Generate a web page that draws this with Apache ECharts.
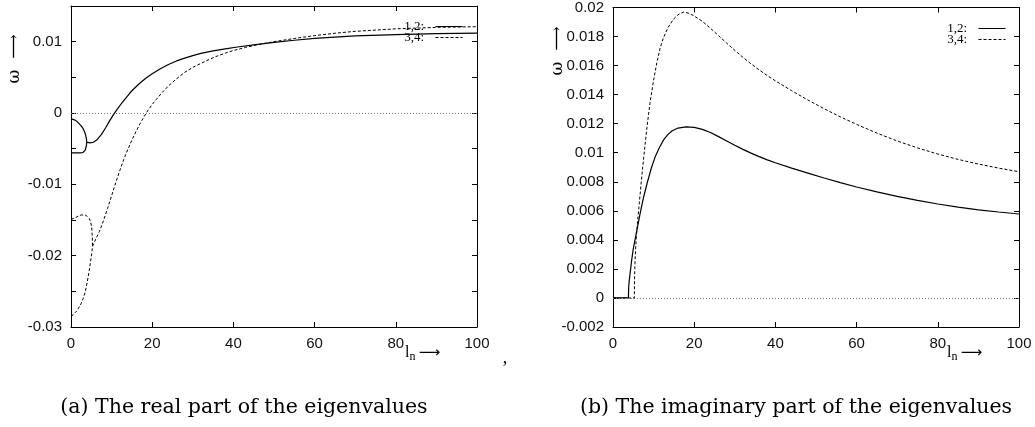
<!DOCTYPE html>
<html>
<head>
<meta charset="utf-8">
<script src="https://cdn.jsdelivr.net/npm/echarts@6/dist/echarts.min.js"></script>
<style>
  html, body { margin: 0; padding: 0; background: #fff; }
  #chart { width: 1035px; height: 427px; }
</style>
</head>
<body>
<div id="chart"></div>
<script>
// Eigenvalue branches versus l_n. Before the two modes of a pair coalesce they are
// real and distinct (two branches); afterwards they share one real part.
const seriesNames = ['1,2:', '3,4:'];

const xTickValues = [0, 20, 40, 60, 80, 100];
const realYLabels = [-0.03, -0.02, -0.01, 0, 0.01];
const imagYLabels = [-0.002, 0, 0.002, 0.004, 0.006, 0.008, 0.01, 0.012, 0.014, 0.016, 0.018, 0.02];

// Real part, modes 1,2
const realSolidUpper = [[0,-0.0008],[0.5,-0.0009],[1,-0.0010],[1.5,-0.0012],[2,-0.0015],[2.5,-0.0018],[3,-0.0022],[3.3,-0.0026],[3.5,-0.0029],[3.65,-0.0032],[3.75,-0.0035],[3.83,-0.0038],[3.88,-0.0041]];
const realSolidLower = [[0,-0.0056],[1,-0.0056],[2,-0.0056],[2.5,-0.0056],[3,-0.0055],[3.3,-0.0054],[3.5,-0.0052],[3.65,-0.0050],[3.75,-0.0047],[3.83,-0.0044],[3.88,-0.0041],[4.3,-0.0041],[4.7,-0.0042],[5.5,-0.0041],[6.5,-0.0037],[7.5,-0.0030],[8.5,-0.0021],[9.5,-0.0011],[10.5,-0.0002],[11.5,0.0006],[12.5,0.0014],[13.5,0.0021],[14.5,0.0028],[15.5,0.0034],[17,0.0042],[18.5,0.0049],[20,0.0055],[22,0.0062],[24,0.0068],[26,0.0073],[28,0.0077],[30,0.00805],[32,0.00835],[35,0.0087],[38,0.0090],[41,0.00925],[45,0.00955],[50,0.0099],[55,0.0102],[60,0.01045],[70,0.0108],[80,0.0110],[90,0.01113],[100,0.0112]];

// Real part, modes 3,4
const realDashUpper = [[0,-0.0149],[1,-0.0147],[2,-0.0144],[2.5,-0.0143],[3,-0.0143],[3.5,-0.0143],[4,-0.0145],[4.5,-0.0148],[4.8,-0.0152],[5.0,-0.0157],[5.15,-0.0164],[5.25,-0.0174],[5.3,-0.0187]];
const realDashLower = [[0,-0.0285],[0.5,-0.0283],[1,-0.0280],[1.5,-0.0277],[2,-0.0272],[2.5,-0.0267],[3,-0.0260],[3.5,-0.0251],[4,-0.0237],[4.4,-0.0224],[4.8,-0.0209],[5.1,-0.0197],[5.3,-0.0187],[6,-0.0178],[7,-0.0166],[8,-0.0151],[9,-0.0134],[10,-0.0116],[11,-0.0098],[12,-0.0081],[13,-0.0065],[14,-0.0051],[15,-0.0038],[16,-0.0026],[17,-0.0015],[18,-0.0005],[19,0.0004],[20,0.0012],[21,0.0019],[22.5,0.0029],[24,0.0038],[26,0.0048],[28,0.0057],[30,0.0064],[32,0.00695],[34,0.0075],[36,0.00798],[38,0.0084],[40,0.00876],[43,0.0092],[46,0.00958],[50,0.0100],[55,0.01045],[60,0.01085],[65,0.01118],[70,0.01145],[80,0.0118],[90,0.0120],[100,0.0121]];

// Imaginary part
const imagSolid = [[0,0],[3.8,0],[3.85,0.0007],[4.0,0.0012],[4.3,0.0019],[4.6,0.0026],[5.0,0.0034],[5.7,0.0044],[6.6,0.0057],[7.5,0.0069],[8.5,0.0080],[9.5,0.0090],[10.5,0.0098],[11.5,0.0104],[12.5,0.0109],[13.5,0.01125],[14.5,0.0115],[16,0.0117],[18,0.01178],[20,0.01175],[22,0.01161],[24,0.01139],[26,0.01111],[28,0.01081],[30,0.01051],[32,0.01023],[34,0.00997],[36,0.00973],[38,0.00951],[40,0.00931],[44,0.00894],[48,0.0086],[52,0.00826],[56,0.00794],[60,0.00764],[65,0.00731],[70,0.0070],[75,0.00672],[80,0.00647],[85,0.00626],[90,0.00607],[95,0.00592],[100,0.00578]];
const imagDash = [[0,0],[5.25,0],[5.3,0.0013],[5.4,0.0023],[5.55,0.0033],[5.7,0.0040],[6.0,0.0051],[6.5,0.0066],[7.0,0.0081],[7.5,0.0095],[8.3,0.0116],[9.1,0.0134],[10,0.0150],[10.8,0.0162],[11.6,0.0172],[12.4,0.0179],[13.5,0.0186],[14.9,0.0192],[16,0.0195],[17.3,0.01968],[18.5,0.01962],[19.8,0.01945],[22,0.01905],[24,0.01857],[26,0.01806],[28,0.01755],[30,0.01705],[32,0.01657],[34,0.01612],[36,0.0157],[38,0.01531],[40,0.01495],[44,0.01427],[48,0.01363],[52,0.01303],[56,0.01247],[60,0.01195],[65,0.01135],[70,0.01081],[75,0.01033],[80,0.00991],[85,0.00954],[90,0.00922],[95,0.00894],[100,0.00869]];

const ink = '#000';
const tickFont = { fontFamily: '"Liberation Sans", Arial, sans-serif', fontSize: 15, color: '#111' };
const serifFont = '"Liberation Serif", "Times New Roman", serif';

function pickLabel(list) {
  return function (v) {
    const hit = list.find(t => Math.abs(t - v) < 1e-9);
    return hit === undefined ? '' : String(hit);
  };
}

function xAxisPair(gridIndex) {
  const base = {
    gridIndex, type: 'value', min: 0, max: 100, interval: 20,
    splitLine: { show: false },
    axisLine: { show: true, onZero: false, lineStyle: { color: ink, width: 1 } },
    axisTick: { show: true, inside: true, length: 5, lineStyle: { color: ink } }
  };
  return [
    Object.assign({}, base, {
      position: 'bottom',
      axisLabel: Object.assign({ margin: 9, formatter: pickLabel(xTickValues) }, tickFont)
    }),
    Object.assign({}, base, { position: 'top', axisLabel: { show: false } })
  ];
}

function yAxisPair(gridIndex, min, max, interval, labels, margin) {
  const base = {
    gridIndex, type: 'value', min, max, interval,
    splitLine: { show: false },
    axisLine: { show: true, onZero: false, lineStyle: { color: ink, width: 1 } },
    axisTick: { show: true, inside: true, length: 5, lineStyle: { color: ink } }
  };
  return [
    Object.assign({}, base, {
      position: 'left',
      axisLabel: Object.assign({ margin, formatter: pickLabel(labels) }, tickFont)
    }),
    Object.assign({}, base, { position: 'right', axisLabel: { show: false } })
  ];
}

const solidStyle = { color: ink, width: 1.2, type: 'solid' };
const dashStyle = { color: ink, width: 1, type: [3, 2] };

function curve(name, data, xi, yi, style, extra) {
  return Object.assign({
    type: 'line', name, data, xAxisIndex: xi, yAxisIndex: yi,
    symbol: 'none', showSymbol: false, smooth: false, color: ink,
    itemStyle: { color: ink },
    lineStyle: style, silent: true, animation: false
  }, extra || {});
}

const zeroLine = {
  silent: true, symbol: 'none', label: { show: false },
  lineStyle: { color: '#777', width: 1, type: [1, 2] },
  data: [{ yAxis: 0 }]
};

function legendAt(right, top) {
  return {
    data: seriesNames, orient: 'vertical', right, top, align: 'right',
    itemWidth: 27, itemHeight: 11, itemGap: -2, padding: 0,
    selectedMode: false,
    itemStyle: { opacity: 0 },
    lineStyle: { width: 1 },
    formatter: n => n + '  ',
    textStyle: { fontFamily: serifFont, fontSize: 13, color: '#000', lineHeight: 11 }
  };
}

const option = {
  animation: false,
  backgroundColor: '#fff',
  grid: [
    { left: 71, top: 6, width: 406, height: 321 },
    { left: 613, top: 6, width: 406, height: 321 }
  ],
  xAxis: [...xAxisPair(0), ...xAxisPair(1)],
  yAxis: [
    ...yAxisPair(0, -0.03, 0.015, 0.005, realYLabels, 9),
    ...yAxisPair(1, -0.002, 0.02, 0.002, imagYLabels, 9)
  ],
  legend: [legendAt(572, 20), legendAt(29, 22)],
  series: [
    curve(seriesNames[0], realSolidLower, 0, 0, solidStyle, { markLine: zeroLine }),
    curve(seriesNames[0], realSolidUpper, 0, 0, solidStyle),
    curve(seriesNames[1], realDashLower, 0, 0, dashStyle),
    curve(seriesNames[1], realDashUpper, 0, 0, dashStyle),
    curve(seriesNames[0], imagSolid, 2, 2, solidStyle, { markLine: zeroLine }),
    curve(seriesNames[1], imagDash, 2, 2, dashStyle)
  ],
  graphic: [
    // vertical axis titles: omega with an upward arrow
    { type: 'text', x: 15, y: 59, rotation: Math.PI / 2,
      style: { text: 'ω  ⟶', font: '17px "DejaVu Serif", serif', fill: '#000', align: 'center', verticalAlign: 'middle' } },
    { type: 'text', x: 558, y: 51, rotation: Math.PI / 2,
      style: { text: 'ω  ⟶', font: '17px "DejaVu Serif", serif', fill: '#000', align: 'center', verticalAlign: 'middle' } },
    // horizontal axis titles: l_n with an arrow
    { type: 'text', x: 405, y: 353,
      style: { text: '{l|l}{n|n} {a|⟶}', align: 'left', verticalAlign: 'middle',
        rich: {
          l: { font: '16px ' + serifFont, fill: '#000' },
          n: { font: '12px ' + serifFont, fill: '#000', padding: [8, 0, 0, 0] },
          a: { font: '15px "DejaVu Sans", sans-serif', fill: '#000' }
        } } },
    { type: 'text', x: 947, y: 353,
      style: { text: '{l|l}{n|n} {a|⟶}', align: 'left', verticalAlign: 'middle',
        rich: {
          l: { font: '16px ' + serifFont, fill: '#000' },
          n: { font: '12px ' + serifFont, fill: '#000', padding: [8, 0, 0, 0] },
          a: { font: '15px "DejaVu Sans", sans-serif', fill: '#000' }
        } } },
    { type: 'text', x: 505, y: 358,
      style: { text: ',', font: '18px ' + serifFont, fill: '#000', align: 'center', verticalAlign: 'middle' } },
    // sub-figure captions
    { type: 'text', x: 244, y: 408,
      style: { text: '(a) The real part of the eigenvalues', font: '20.5px "DejaVu Serif", serif', fill: '#000', align: 'center', verticalAlign: 'middle' } },
    { type: 'text', x: 796, y: 408,
      style: { text: '(b) The imaginary part of the eigenvalues', font: '20.5px "DejaVu Serif", serif', fill: '#000', align: 'center', verticalAlign: 'middle' } }
  ]
};

const chart = echarts.init(document.getElementById('chart'), null, { renderer: 'canvas' });
chart.setOption(option);
</script>
</body>
</html>
